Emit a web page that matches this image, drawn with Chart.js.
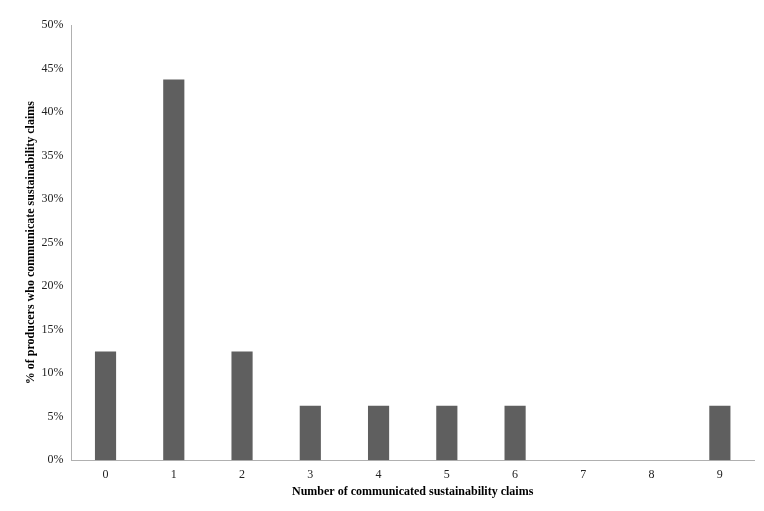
<!DOCTYPE html>
<html lang="en">
<head>
    <meta charset="UTF-8">
    <title>Number of communicated sustainability claims</title>
    <script src="https://cdn.jsdelivr.net/npm/chart.js"></script>
    <style>
        html, body { margin: 0; padding: 0; background: #fff; }
        .wrapper { width: 764px; height: 511px; }
    </style>
</head>
<body>
    <div class="wrapper">
        <canvas id="claimsChart"></canvas>
    </div>
    <script>
        // number of claims communicated
        const claimCounts = ['0', '1', '2', '3', '4', '5', '6', '7', '8', '9'];
        // share of producers (%)
        const producerShare = [12.5, 43.75, 12.5, 6.25, 6.25, 6.25, 6.25, 0, 0, 6.25];
        const yTicks = [0, 5, 10, 15, 20, 25, 30, 35, 40, 45, 50];

        const serif = "'Liberation Serif', 'Times New Roman', serif";
        const axisGrey = '#b0b0b0';

        const ctx = document.getElementById('claimsChart').getContext('2d');
        new Chart(ctx, {
            type: 'bar',
            data: {
                labels: claimCounts,
                datasets: [{
                    data: producerShare,
                    backgroundColor: '#5f5f5f',
                    barPercentage: 1,
                    categoryPercentage: 0.31
                }]
            },
            options: {
                responsive: true,
                maintainAspectRatio: false,
                animation: false,
                layout: { padding: { top: 25, right: 10, bottom: 12, left: 24 } },
                plugins: {
                    legend: { display: false },
                    tooltip: { enabled: false }
                },
                scales: {
                    x: {
                        grid: { display: false, drawTicks: false },
                        border: { color: axisGrey },
                        ticks: { color: '#222', padding: 7, font: { family: serif, size: 12 } },
                        title: {
                            display: true,
                            text: 'Number of communicated sustainability claims',
                            color: '#000',
                            padding: { top: -4, bottom: 0 },
                            font: { family: serif, size: 12, weight: 'bold' }
                        }
                    },
                    y: {
                        min: 0,
                        max: 50,
                        afterBuildTicks: axis => { axis.ticks = yTicks.map(v => ({ value: v })); },
                        grid: { display: false, drawTicks: false },
                        border: { color: axisGrey },
                        ticks: {
                            color: '#222',
                            padding: 8,
                            font: { family: serif, size: 12 },
                            callback: v => v + '%'
                        },
                        title: {
                            display: true,
                            text: '% of producers who communicate sustainability claims',
                            color: '#000',
                            padding: { top: 0, bottom: -5 },
                            font: { family: serif, size: 12, weight: 'bold' }
                        }
                    }
                }
            }
        });
    </script>
</body>
</html>
